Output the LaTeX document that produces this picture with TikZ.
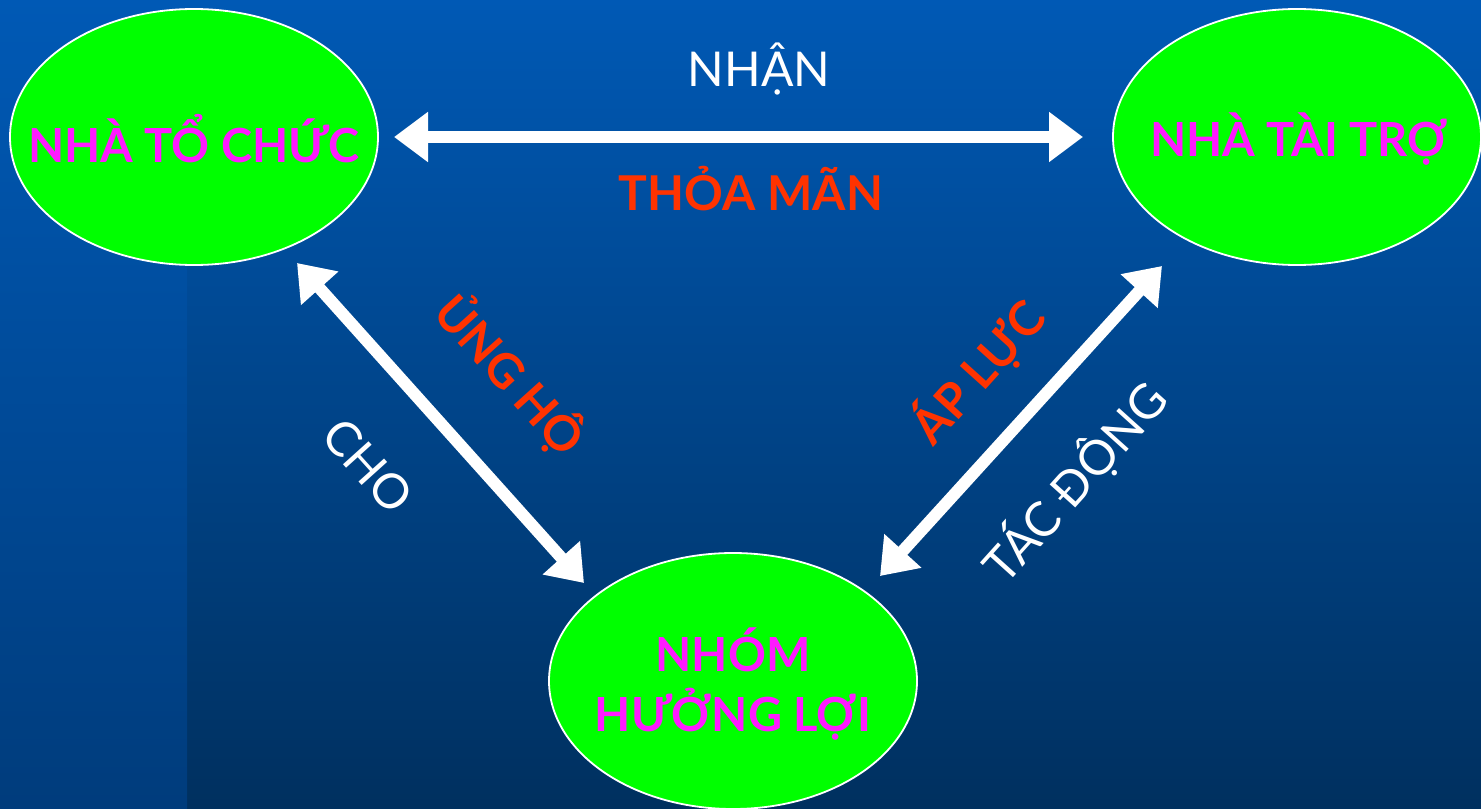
\documentclass[tikz,border=0pt]{standalone}
\usepackage{fontspec}
\setmainfont{Lato}
\usetikzlibrary{shapes.geometric,arrows.meta}
\definecolor{bgtop}{HTML}{0059B5}
\definecolor{bgbot}{HTML}{00305F}
\definecolor{bgstripbot}{HTML}{003C7C}
\definecolor{lime}{HTML}{00FF00}
\definecolor{pinkmag}{HTML}{FF1AFF}
\definecolor{labred}{HTML}{FF3300}
\tikzset{
  blob/.style={ellipse, draw=white, line width=0.9pt, fill=lime, minimum width=184pt, minimum height=128pt, inner sep=0pt},
  blobtext/.style={font=\fontsize{23.5}{28}\selectfont\bfseries, text=pinkmag, align=center, inner sep=0pt},
  link/.style={draw=white, line width=6pt, {Triangle[length=17pt,width=24pt]}-{Triangle[length=17pt,width=24pt]}},
  whitelab/.style={font=\fontsize{24}{28}\selectfont, text=white, inner sep=0pt},
  redlab/.style={font=\fontsize{24}{28}\selectfont\bfseries, text=labred, inner sep=0pt}
}
\begin{document}
\begin{tikzpicture}[x=0.5pt,y=-0.5pt]
\useasboundingbox (0,0) rectangle (1481,808);
\shade[top color=bgtop, bottom color=bgbot] (0,0) rectangle (1481,808);
\shade[top color=bgtop, bottom color=bgstripbot] (0,0) rectangle (187,808);

\node[blob] (org) at (194,137) {};
\node[blob] (spon) at (1297,137) {};
\node[blob] (ben) at (733,681) {};
\node[blobtext] (orgt) at (194,139) {NHÀ TỔ CHỨC};
\node[blobtext] (sppt) at (1299,139) {NHÀ TÀI TRỢ};
\node[blobtext] (bent) at (733,684) {NHÓM\\[2pt]HƯỞNG LỢI};

\coordinate (h1) at (394,137);
\coordinate (h2) at (1083,137);
\coordinate (l1) at (297,263);
\coordinate (l2) at (584,583);
\coordinate (r1) at (1162,266);
\coordinate (r2) at (880,576);

\draw[link] (h1) -- (h2);
\draw[link] (l1) -- (l2);
\draw[link] (r1) -- (r2);

\node[whitelab, anchor=base] (nhan) at (759,87) {NHẬN};
\node[redlab, anchor=base] (thoa) at (751,210) {THỎA MÃN};
\node[redlab, rotate=-48] (ungho) at (510,375) {ỦNG HỘ};
\node[whitelab, rotate=-48] (cho) at (368,466) {CHO};
\node[redlab, rotate=48] (apluc) at (978,372) {ÁP LỰC};
\node[whitelab, rotate=48] (tacdong) at (1075,482) {TÁC ĐỘNG};
\end{tikzpicture}
\end{document}
